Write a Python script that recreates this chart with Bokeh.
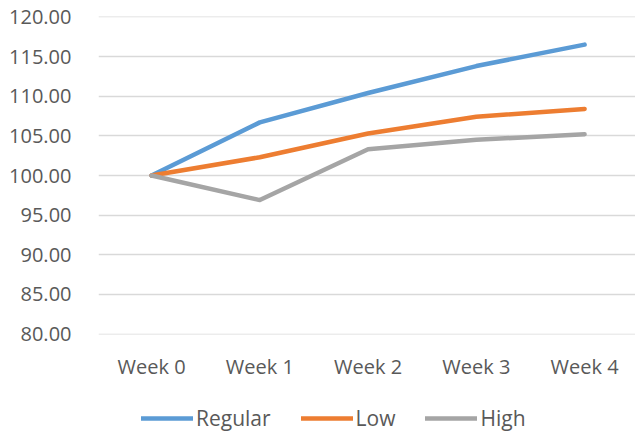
from bokeh.plotting import figure
from bokeh.layouts import column
from bokeh.models import Range1d, FixedTicker, NumeralTickFormatter, Legend, LegendItem
from bokeh.embed import file_html
from bokeh.resources import INLINE

weeks = ["Week 0", "Week 1", "Week 2", "Week 3", "Week 4"]
regular = [100.0, 106.7, 110.4, 113.8, 116.5]
low = [100.0, 102.3, 105.3, 107.4, 108.4]
high = [100.0, 96.9, 103.3, 104.5, 105.2]
series_names = ["Regular", "Low", "High"]
y_ticks = [80, 85, 90, 95, 100, 105, 110, 115, 120]

xs = list(range(len(weeks)))

FONT = "Open Sans"
TXT = "#595959"
colors = {"Regular": "#5B9BD5", "Low": "#ED7D31", "High": "#A5A5A5"}

p = figure(width=635, height=390, output_backend="svg", toolbar_location=None,
           x_range=Range1d(-0.49, 4.47), y_range=Range1d(79.95, 120.05),
           min_border_left=98, min_border_right=0, min_border_top=16, min_border_bottom=56)
p.outline_line_color = None
p.background_fill_color = "white"
p.border_fill_color = "white"

p.xgrid.grid_line_color = None
p.ygrid.grid_line_color = "#D9D9D9"
p.ygrid.grid_line_width = 1.3
p.ygrid.ticker = FixedTicker(ticks=y_ticks)

p.yaxis.ticker = FixedTicker(ticks=y_ticks)
p.yaxis.formatter = NumeralTickFormatter(format="0.00")
p.yaxis.axis_line_color = None
p.yaxis.major_tick_line_color = None
p.yaxis.minor_tick_line_color = None
p.yaxis.major_label_standoff = 21
p.yaxis.major_label_text_font = FONT
p.yaxis.major_label_text_font_size = "20px"
p.yaxis.major_label_text_color = TXT

p.xaxis.ticker = FixedTicker(ticks=xs)
p.xaxis.major_label_overrides = {i: w for i, w in enumerate(weeks)}
p.xaxis.axis_line_color = None
p.xaxis.major_tick_line_color = None
p.xaxis.minor_tick_line_color = None
p.xaxis.major_label_standoff = 12
p.xaxis.major_label_text_font = FONT
p.xaxis.major_label_text_font_size = "20px"
p.xaxis.major_label_text_color = TXT

for name, ys in zip(series_names, [regular, low, high]):
    p.line(xs, ys, line_color=colors[name], line_width=4.5,
           line_cap="round", line_join="round")

# legend strip below the chart (proxy renderers lie outside its visible range)
lg = figure(width=635, height=43, output_backend="svg", toolbar_location=None,
            x_range=Range1d(0, 1), y_range=Range1d(0, 1),
            min_border_left=0, min_border_right=0, min_border_top=0, min_border_bottom=0)
lg.axis.visible = False
lg.grid.grid_line_color = None
lg.outline_line_color = None
items = []
for name in series_names:
    r = lg.line(x=[5, 6], y=[5, 5], line_color=colors[name], line_width=4.5, line_cap="round")
    items.append(LegendItem(label=name, renderers=[r]))
legend = Legend(items=items, orientation="horizontal", location=(43, 1),
                label_text_font=FONT, label_text_font_size="21px", label_text_color=TXT,
                glyph_width=52, label_standoff=3, spacing=30, border_line_color=None,
                background_fill_alpha=0, padding=0, margin=0)
lg.add_layout(legend)

layout = column(p, lg, spacing=0)
open("out.html", "w").write(file_html(layout, INLINE))
